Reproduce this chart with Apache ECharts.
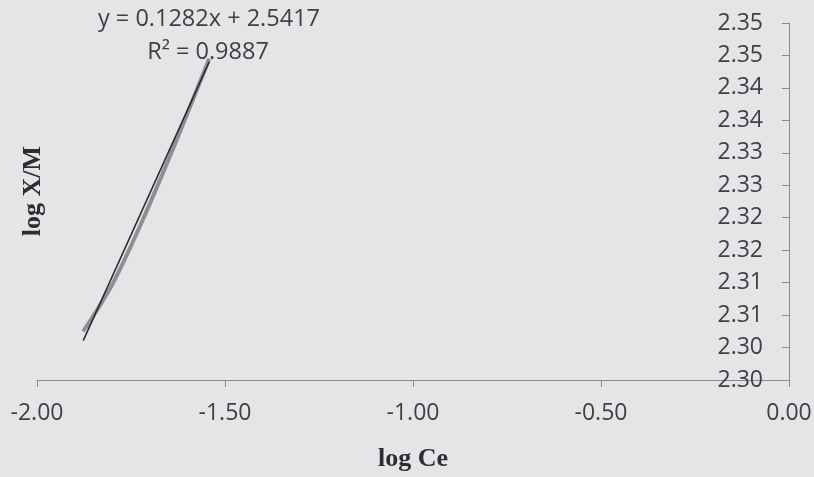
<!DOCTYPE html>
<html>
<head>
<meta charset="utf-8">
<script src="https://cdn.jsdelivr.net/npm/echarts@6/dist/echarts.min.js"></script>
<style>
  html, body { margin: 0; padding: 0; background: #e5e4e7; }
  #chart { width: 814px; height: 477px; }
</style>
</head>
<body>
<div id="chart"></div>
<script>
// Freundlich isotherm: log Ce vs log X/M
const logCe = [-1.877, -1.80, -1.72, -1.63, -1.542];
const logXM = [2.3025, 2.3097, 2.3195, 2.3318, 2.3445];

// Linear fit reported on the chart
const fitSlope = 0.1282;
const fitIntercept = 2.5417;
const fitEquation = 'y = 0.1282x + 2.5417';
const fitR2 = 'R² = 0.9887';

// Axis settings and tick labels
const xTickLabels = ['-2.00', '-1.50', '-1.00', '-0.50', '0.00'];
const yTickLabels = ['2.30', '2.30', '2.31', '2.31', '2.32', '2.32',
                     '2.33', '2.33', '2.34', '2.34', '2.35', '2.35'];
const xMin = -2, xMax = 0, xStep = 0.5;
const yMin = 2.295, yMax = 2.350, yStep = 0.005;

const dataPoints = logCe.map((x, i) => [x, logXM[i]]);
const fitX = [Math.min(...logCe), Math.max(...logCe)];
const fitPoints = fitX.map(x => [x, fitSlope * x + fitIntercept]);

const textColor = '#3f3f44';
const titleColor = '#2e2e32';
const axisColor = '#8a8a8e';

const chart = echarts.init(document.getElementById('chart'));
chart.setOption({
  backgroundColor: '#e5e4e7',
  animation: false,
  grid: { left: 37, right: 25, top: 23, bottom: 97, containLabel: false, outerBoundsMode: 'none' },
  xAxis: {
    type: 'value',
    min: xMin, max: xMax, interval: xStep,
    name: 'log Ce',
    nameLocation: 'middle',
    nameGap: 66,
    nameTextStyle: {
      fontFamily: 'Liberation Serif', fontWeight: 'bold',
      fontSize: 26, color: titleColor
    },
    axisLine: { show: true, onZero: false, lineStyle: { color: axisColor, width: 1 } },
    axisTick: { show: true, length: 7, lineStyle: { color: axisColor } },
    axisLabel: {
      margin: 22,
      fontFamily: 'Open Sans', fontSize: 23, color: textColor,
      formatter: v => xTickLabels[Math.round((v - xMin) / xStep)]
    },
    splitLine: { show: false }
  },
  yAxis: {
    type: 'value',
    position: 'right',
    min: yMin, max: yMax, interval: yStep,
    axisLine: { show: true, onZero: false, lineStyle: { color: axisColor, width: 1 } },
    axisTick: { show: true, inside: true, length: 7, lineStyle: { color: axisColor } },
    axisLabel: {
      inside: true,
      margin: 26,
      fontFamily: 'Open Sans', fontSize: 23, color: textColor,
      formatter: v => yTickLabels[Math.round((v - yMin) / yStep)]
    },
    splitLine: { show: false }
  },
  graphic: [
    {
      type: 'text', x: 209, y: 19,
      style: {
        text: fitEquation,
        align: 'center', verticalAlign: 'middle',
        font: '23.5px "Open Sans"', fill: textColor
      }
    },
    {
      type: 'text', x: 208, y: 52,
      style: {
        text: fitR2,
        align: 'center', verticalAlign: 'middle',
        font: '23.5px "Open Sans"', fill: textColor
      }
    },
    {
      type: 'text', x: 33, y: 191,
      rotation: Math.PI / 2,
      style: {
        text: 'log X/M',
        align: 'center', verticalAlign: 'middle',
        font: 'bold 26px "Liberation Serif"', fill: titleColor
      }
    }
  ],
  series: [
    {
      type: 'line',
      data: dataPoints,
      smooth: 0.3,
      symbol: 'none',
      lineStyle: { color: '#8f8f93', width: 4 },
      z: 2
    },
    {
      type: 'line',
      data: fitPoints,
      symbol: 'none',
      lineStyle: { color: '#28282c', width: 1.5 },
      z: 3
    }
  ]
});
</script>
</body>
</html>
